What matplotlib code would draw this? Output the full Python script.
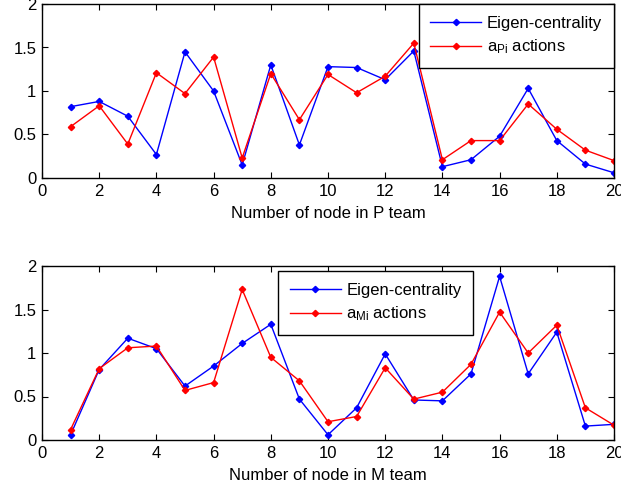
import matplotlib
matplotlib.use("Agg")
import matplotlib.pyplot as plt

plt.rcParams['font.family'] = ['Liberation Sans', 'DejaVu Sans']
plt.rcParams['mathtext.fontset'] = 'custom'
plt.rcParams['mathtext.rm'] = 'Liberation Sans'
plt.rcParams['mathtext.it'] = 'Liberation Sans'

nodes = list(range(1, 21))

eigen_P = [0.82, 0.88, 0.71, 0.27, 1.45, 1.00, 0.15, 1.30, 0.38, 1.28,
           1.27, 1.13, 1.46, 0.13, 0.21, 0.48, 1.03, 0.43, 0.16, 0.06]
actions_P = [0.59, 0.83, 0.39, 1.21, 0.97, 1.39, 0.23, 1.20, 0.67, 1.19,
             0.98, 1.17, 1.55, 0.21, 0.43, 0.43, 0.85, 0.56, 0.32, 0.20]

eigen_M = [0.06, 0.81, 1.17, 1.05, 0.62, 0.85, 1.11, 1.33, 0.47, 0.06,
           0.37, 0.99, 0.46, 0.45, 0.76, 1.88, 0.76, 1.24, 0.16, 0.18]
actions_M = [0.12, 0.82, 1.06, 1.08, 0.57, 0.66, 1.73, 0.95, 0.68, 0.21,
             0.27, 0.83, 0.47, 0.55, 0.87, 1.47, 1.00, 1.32, 0.37, 0.17]

xticks = [0, 2, 4, 6, 8, 10, 12, 14, 16, 18, 20]
yticks = [0, 0.5, 1, 1.5, 2]
yticklabels = ['0', '0.5', '1', '1.5', '2']

W, H = 621, 494
fig = plt.figure(figsize=(W / 100, H / 100), dpi=100)

def make_axes(left, top, right, bottom):
    return fig.add_axes([left / W, 1 - bottom / H, (right - left) / W, (bottom - top) / H])

ax1 = make_axes(42, 4, 614, 178)
ax2 = make_axes(42, 266, 614, 440)

FS = 12

panels = [
    (ax1, eigen_P, actions_P, r'a$_{\mathrm{Pi}}$ actions', 'Number of node in P team',
     'upper right', (1.0, 1.0)),
    (ax2, eigen_M, actions_M, r'a$_{\mathrm{Mi}}$ actions', 'Number of node in M team',
     'upper left', (0.4126, 0.971)),
]

for ax, e, a, lab, xlab, loc, anchor in panels:
    ax.plot(nodes, e, color=(0, 0, 1), lw=1.0, marker='D', ms=3.2, label='Eigen-centrality')
    ax.plot(nodes, a, color=(1, 0, 0), lw=1.0, marker='D', ms=3.2, label=lab)
    ax.set_xlim(0, 20)
    ax.set_ylim(0, 2)
    ax.set_xticks(xticks)
    ax.set_yticks(yticks)
    ax.set_yticklabels(yticklabels)
    ax.tick_params(axis='x', pad=4.5)
    ax.tick_params(axis='y', pad=4)
    ax.tick_params(direction='in', top=True, right=True, labelsize=FS, length=4, width=0.8)
    for s in ax.spines.values():
        s.set_linewidth(1.0)
        s.set_color('black')
    ax.set_xlabel(xlab, fontsize=FS, labelpad=5)
    leg = ax.legend(loc=loc, bbox_to_anchor=anchor, fontsize=FS, fancybox=False,
                    framealpha=1, edgecolor='black', borderpad=0.7, handlelength=3.05,
                    handletextpad=0.35, labelspacing=0.42, borderaxespad=0)
    leg.get_frame().set_linewidth(1.0)

fig.savefig('out.png', dpi=100)
